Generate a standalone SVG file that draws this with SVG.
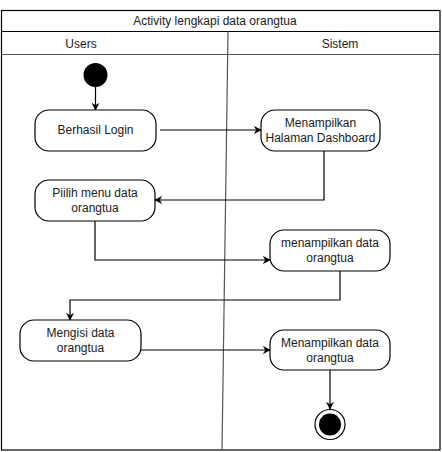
<svg xmlns="http://www.w3.org/2000/svg" width="442" height="452" viewBox="0 0 442 452">
<defs>
<marker id="ah" viewBox="0 0 10 10" refX="9" refY="5" markerWidth="8" markerHeight="8" markerUnits="userSpaceOnUse" orient="auto">
<path d="M0,0 L10,5 L0,10 L3,5 Z" fill="#000"/>
</marker>
</defs>
<style>
text{font-family:"Liberation Sans",Arial,sans-serif;font-size:12px;fill:#1a1a1a;text-anchor:middle}
.n{fill:#fff;stroke:#000;stroke-width:1.2}
.c{fill:none;stroke:#000;stroke-width:1.2;marker-end:url(#ah)}
.f{fill:none;stroke:#000;stroke-width:1.2}
</style>
<rect x="0" y="0" width="442" height="452" fill="#fff"/>
<g id="frame">
<rect class="f" x="1.5" y="10.5" width="438.5" height="439.5"/>
<line class="f" x1="1.5" y1="31.5" x2="440" y2="31.5"/>
<line x1="1.5" y1="54.5" x2="440" y2="54.5" stroke="#555" stroke-width="1.2"/>
<line x1="228" y1="31.5" x2="222" y2="450" stroke="#555" stroke-width="1.2"/>
<text x="215" y="25">Activity lengkapi data orangtua</text>
<text x="81" y="48">Users</text>
<text x="340" y="48">Sistem</text>
</g>
<g id="connectors">
<path class="c" d="M95.5,87 V110"/>
<path class="c" d="M160,130 H261"/>
<path class="c" d="M324,151 V200 H155"/>
<path class="c" d="M95,221 V260 H270"/>
<path class="c" d="M340,271 V300 H70 V320"/>
<path class="c" d="M141,350 H270"/>
<path class="c" d="M330,370 V409"/>
</g>
<g id="start"><circle cx="95.5" cy="75" r="12" fill="#000"/></g>
<g id="n1"><rect class="n" x="35" y="110" width="121" height="41" rx="14"/><text x="95.5" y="134">Berhasil Login</text></g>
<g id="n2"><rect class="n" x="261" y="110" width="119" height="41" rx="14"/><text x="320.5" y="127">Menampilkan</text><text x="320.5" y="142">Halaman Dashboard</text></g>
<g id="n3"><rect class="n" x="35" y="180" width="120" height="41" rx="14"/><text x="95" y="197">Piilih menu data</text><text x="95" y="212">orangtua</text></g>
<g id="n4"><rect class="n" x="270" y="230" width="120" height="41" rx="14"/><text x="330" y="247">menampilkan data</text><text x="330" y="262">orangtua</text></g>
<g id="n5"><rect class="n" x="20" y="320" width="121" height="41" rx="14"/><text x="80.5" y="337">Mengisi data</text><text x="80.5" y="352">orangtua</text></g>
<g id="n6"><rect class="n" x="270" y="330" width="120" height="40" rx="14"/><text x="330" y="347">Menampilkan data</text><text x="330" y="362">orangtua</text></g>
<g id="end"><circle cx="330" cy="424.5" r="15" fill="#fff" stroke="#000" stroke-width="1.2"/><circle cx="330" cy="424.5" r="11" fill="#000"/></g>
</svg>
